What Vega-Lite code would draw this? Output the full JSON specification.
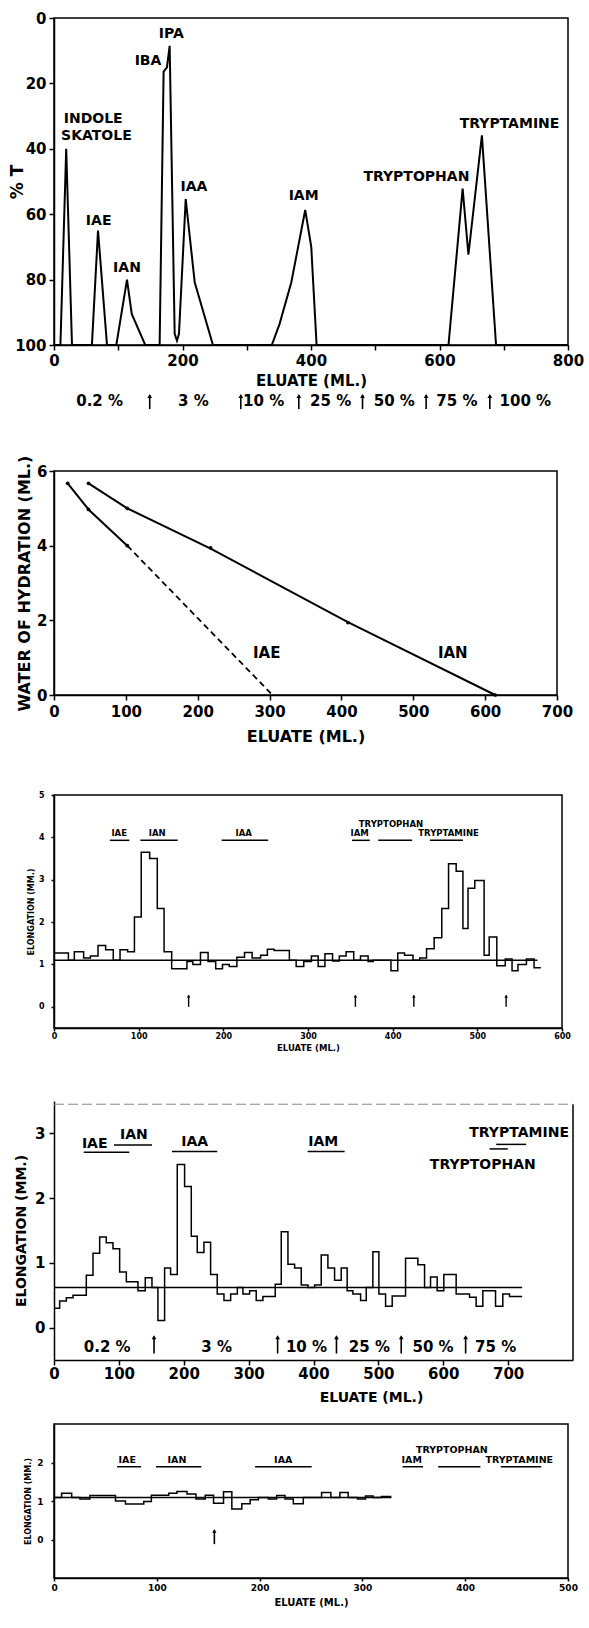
{
  "$schema": "https://vega.github.io/schema/vega-lite/v6.json",
  "background": "white",
  "padding": 0,
  "spacing": 0,
  "config": {
    "font": "DejaVu Sans",
    "view": {"stroke": "black", "strokeWidth": 1.5},
    "axis": {"grid": false, "domainColor": "black", "domainWidth": 1.5, "tickColor": "black", "tickWidth": 1.5, "labelColor": "black", "titleColor": "black", "labelFontWeight": "bold", "titleFontWeight": "bold", "labelFlush": false, "labelOverlap": false},
    "text": {"fontWeight": "bold", "color": "black"},
    "line": {"color": "black"},
    "rule": {"color": "black"},
    "point": {"color": "black", "filled": true, "opacity": 1}
  },
  "datasets": {
    "p1_line": [
      {"x": 0, "y": 100}, {"x": 10, "y": 100}, {"x": 19, "y": 40}, {"x": 28, "y": 100}, {"x": 59, "y": 100}, {"x": 68.5, "y": 65}, {"x": 82.5, "y": 100},
      {"x": 97, "y": 100}, {"x": 113.6, "y": 80}, {"x": 121, "y": 90.5}, {"x": 142, "y": 100}, {"x": 164.4, "y": 100}, {"x": 170.6, "y": 16.4},
      {"x": 175.8, "y": 15.1}, {"x": 180, "y": 8.5}, {"x": 187.8, "y": 96.6}, {"x": 191.4, "y": 98.7}, {"x": 194.5, "y": 96.6}, {"x": 205, "y": 55.4},
      {"x": 219, "y": 80.8}, {"x": 247.4, "y": 100}, {"x": 339, "y": 100}, {"x": 351, "y": 93.6}, {"x": 369.4, "y": 80.8}, {"x": 391, "y": 58.7},
      {"x": 400.4, "y": 70}, {"x": 408.7, "y": 100}, {"x": 614, "y": 100}, {"x": 636, "y": 52.2}, {"x": 645, "y": 72.4}, {"x": 666, "y": 35.9},
      {"x": 688, "y": 100}, {"x": 800, "y": 100}
    ],
    "p1_labels": [
      {"x": 61, "y": 31, "t": "INDOLE"}, {"x": 66, "y": 36, "t": "SKATOLE"}, {"x": 69.5, "y": 62, "t": "IAE"}, {"x": 113.6, "y": 76.3, "t": "IAN"},
      {"x": 146.3, "y": 13, "t": "IBA"}, {"x": 182.6, "y": 4.9, "t": "IPA"}, {"x": 217.8, "y": 51.6, "t": "IAA"}, {"x": 388.5, "y": 54.3, "t": "IAM"},
      {"x": 564, "y": 48.5, "t": "TRYPTOPHAN"}, {"x": 709, "y": 32.4, "t": "TRYPTAMINE"}
    ],
    "p1_pct": [
      {"x": 71, "t": "0.2 %"}, {"x": 217, "t": "3 %"}, {"x": 326.3, "t": "10 %"}, {"x": 430.5, "t": "25 %"}, {"x": 529.7, "t": "50 %"}, {"x": 627, "t": "75 %"}, {"x": 733.6, "t": "100 %"}
    ],
    "p1_arrows": [{"x": 149}, {"x": 290.7}, {"x": 381}, {"x": 480.2}, {"x": 579.2}, {"x": 678.3}],
    "p2_iae": [{"x": 19, "y": 5.67}, {"x": 48, "y": 4.97}, {"x": 102, "y": 4.0}],
    "p2_iae_ext": [{"x": 102, "y": 4.0}, {"x": 304, "y": 0}],
    "p2_ian": [{"x": 48, "y": 5.67}, {"x": 102, "y": 5.0}, {"x": 218, "y": 3.92}, {"x": 409, "y": 1.95}, {"x": 614, "y": 0}],
    "p2_pts": [{"x": 19, "y": 5.67}, {"x": 48, "y": 4.97}, {"x": 102, "y": 4.0}, {"x": 48, "y": 5.67}, {"x": 102, "y": 5.0}, {"x": 218, "y": 3.94}, {"x": 409, "y": 1.94}, {"x": 614, "y": 0}],
    "p2_labels": [{"x": 296, "y": 1.12, "t": "IAE"}, {"x": 555, "y": 1.12, "t": "IAN"}],
    "p3_steps": [
      {"x": 0, "y": 1.27}, {"x": 17, "y": 1.1}, {"x": 24, "y": 1.3}, {"x": 35, "y": 1.15}, {"x": 43, "y": 1.2}, {"x": 52, "y": 1.45}, {"x": 61, "y": 1.35},
      {"x": 70, "y": 1.1}, {"x": 78, "y": 1.35}, {"x": 87, "y": 1.3}, {"x": 95, "y": 2.12}, {"x": 103, "y": 3.65}, {"x": 113, "y": 3.5}, {"x": 122, "y": 2.32},
      {"x": 130, "y": 1.3}, {"x": 139, "y": 0.9}, {"x": 157, "y": 1.07}, {"x": 164, "y": 1.0}, {"x": 173, "y": 1.28}, {"x": 182, "y": 1.07}, {"x": 191, "y": 0.9},
      {"x": 199, "y": 1.0}, {"x": 207, "y": 0.95}, {"x": 216, "y": 1.17}, {"x": 225, "y": 1.28}, {"x": 234, "y": 1.15}, {"x": 244, "y": 1.22}, {"x": 252, "y": 1.36},
      {"x": 260, "y": 1.33}, {"x": 278, "y": 1.1}, {"x": 286, "y": 0.95}, {"x": 295, "y": 1.07}, {"x": 304, "y": 1.2}, {"x": 312, "y": 0.95}, {"x": 320, "y": 1.25},
      {"x": 329, "y": 1.08}, {"x": 337, "y": 1.2}, {"x": 345, "y": 1.3}, {"x": 354, "y": 1.1}, {"x": 362, "y": 1.2}, {"x": 371, "y": 1.07}, {"x": 377, "y": 1.1},
      {"x": 398, "y": 0.85}, {"x": 406, "y": 1.27}, {"x": 414, "y": 1.22}, {"x": 424, "y": 1.1}, {"x": 432, "y": 1.15}, {"x": 440, "y": 1.37}, {"x": 449, "y": 1.63},
      {"x": 458, "y": 2.32}, {"x": 466, "y": 3.38}, {"x": 475, "y": 3.2}, {"x": 483, "y": 1.85}, {"x": 489, "y": 2.8}, {"x": 497, "y": 2.98}, {"x": 508, "y": 1.22},
      {"x": 514, "y": 1.65}, {"x": 523, "y": 0.97}, {"x": 533, "y": 1.13}, {"x": 541, "y": 0.85}, {"x": 548, "y": 1.0}, {"x": 558, "y": 1.13}, {"x": 567, "y": 0.92},
      {"x": 575, "y": 0.92}
    ],
    "p3_bars": [
      {"x": 66, "x2": 89, "y": 3.93}, {"x": 102, "x2": 146, "y": 3.93}, {"x": 198, "x2": 253, "y": 3.93}, {"x": 352, "x2": 373, "y": 3.93},
      {"x": 383, "x2": 423, "y": 3.93}, {"x": 444, "x2": 483, "y": 3.93}
    ],
    "p3_labels": [
      {"x": 77, "y": 4.1, "t": "IAE"}, {"x": 122, "y": 4.1, "t": "IAN"}, {"x": 224, "y": 4.1, "t": "IAA"}, {"x": 361, "y": 4.1, "t": "IAM"},
      {"x": 398, "y": 4.31, "t": "TRYPTOPHAN"}, {"x": 466, "y": 4.1, "t": "TRYPTAMINE"}
    ],
    "p3_arrows": [{"x": 159}, {"x": 356}, {"x": 425}, {"x": 534}],
    "p4_steps": [
      {"x": 0, "y": 0.3}, {"x": 8.7, "y": 0.41}, {"x": 19, "y": 0.46}, {"x": 29.3, "y": 0.5}, {"x": 49.8, "y": 0.81}, {"x": 60.1, "y": 1.15}, {"x": 70.4, "y": 1.4},
      {"x": 80.6, "y": 1.31}, {"x": 90.9, "y": 1.22}, {"x": 101.2, "y": 0.86}, {"x": 111.5, "y": 0.71}, {"x": 129.4, "y": 0.57}, {"x": 140.7, "y": 0.77},
      {"x": 151, "y": 0.62}, {"x": 160.2, "y": 0.11}, {"x": 170.5, "y": 0.92}, {"x": 179.7, "y": 0.82}, {"x": 190, "y": 2.52}, {"x": 201.3, "y": 2.18},
      {"x": 211.6, "y": 1.41}, {"x": 220.8, "y": 1.16}, {"x": 231.1, "y": 1.32}, {"x": 241.4, "y": 0.82}, {"x": 251.6, "y": 0.52}, {"x": 262, "y": 0.42},
      {"x": 272.3, "y": 0.52}, {"x": 282.6, "y": 0.62}, {"x": 291.2, "y": 0.52}, {"x": 301.5, "y": 0.57}, {"x": 311.7, "y": 0.42}, {"x": 322, "y": 0.48},
      {"x": 341, "y": 0.67}, {"x": 350.3, "y": 1.48}, {"x": 360.6, "y": 0.98}, {"x": 370.9, "y": 0.92}, {"x": 381.1, "y": 0.66}, {"x": 391.4, "y": 0.62},
      {"x": 401.7, "y": 0.66}, {"x": 411.9, "y": 1.12}, {"x": 422.2, "y": 0.92}, {"x": 432.5, "y": 0.73}, {"x": 442.7, "y": 0.92}, {"x": 451.9, "y": 0.57},
      {"x": 460.7, "y": 0.52}, {"x": 472.6, "y": 0.42}, {"x": 481.3, "y": 0.62}, {"x": 491.5, "y": 1.17}, {"x": 500.8, "y": 0.52}, {"x": 511.1, "y": 0.33},
      {"x": 521.3, "y": 0.49}, {"x": 541.9, "y": 1.07}, {"x": 560.9, "y": 0.97}, {"x": 571.2, "y": 0.62}, {"x": 580.4, "y": 0.78}, {"x": 590.6, "y": 0.57},
      {"x": 600.9, "y": 0.82}, {"x": 619.9, "y": 0.52}, {"x": 640.5, "y": 0.47}, {"x": 650.7, "y": 0.33}, {"x": 661, "y": 0.57}, {"x": 680.6, "y": 0.33},
      {"x": 691.8, "y": 0.52}, {"x": 702.1, "y": 0.48}, {"x": 721.6, "y": 0.48}
    ],
    "p4_bars": [
      {"x": 45.8, "x2": 116, "y": 2.71}, {"x": 92.5, "x2": 151, "y": 2.82}, {"x": 181.8, "x2": 251.6, "y": 2.72}, {"x": 391, "x2": 448, "y": 2.72},
      {"x": 681.6, "x2": 727.8, "y": 2.83}, {"x": 671.3, "x2": 699.5, "y": 2.76}
    ],
    "p4_labels": [
      {"x": 62.7, "y": 2.84, "t": "IAE"}, {"x": 123, "y": 2.98, "t": "IAN"}, {"x": 216.8, "y": 2.86, "t": "IAA"}, {"x": 415, "y": 2.86, "t": "IAM"},
      {"x": 717, "y": 3.0, "t": "TRYPTAMINE"}, {"x": 661, "y": 2.51, "t": "TRYPTOPHAN"}
    ],
    "p4_pct": [
      {"x": 82, "t": "0.2 %"}, {"x": 250.6, "t": "3 %"}, {"x": 389.2, "t": "10 %"}, {"x": 486.2, "t": "25 %"}, {"x": 584.3, "t": "50 %"}, {"x": 680.7, "t": "75 %"}
    ],
    "p4_arrows": [{"x": 154.2}, {"x": 344.7}, {"x": 435.4}, {"x": 535.2}, {"x": 634.5}],
    "p5_steps": [
      {"x": 0, "y": 1.09}, {"x": 7.4, "y": 1.2}, {"x": 17.2, "y": 1.09}, {"x": 25.3, "y": 1.05}, {"x": 34.9, "y": 1.14}, {"x": 59.8, "y": 1.0},
      {"x": 69.5, "y": 0.92}, {"x": 87.3, "y": 0.99}, {"x": 94.7, "y": 1.15}, {"x": 111.6, "y": 1.2}, {"x": 119.6, "y": 1.25}, {"x": 129.4, "y": 1.18},
      {"x": 138.1, "y": 1.05}, {"x": 147.1, "y": 1.15}, {"x": 155.2, "y": 0.94}, {"x": 164.9, "y": 1.24}, {"x": 173, "y": 0.79}, {"x": 182.7, "y": 0.93},
      {"x": 190.8, "y": 1.03}, {"x": 198.8, "y": 1.09}, {"x": 208.5, "y": 1.05}, {"x": 216.6, "y": 1.14}, {"x": 224.7, "y": 1.05}, {"x": 232.8, "y": 0.93},
      {"x": 242.5, "y": 1.09}, {"x": 260.3, "y": 1.22}, {"x": 269.3, "y": 1.09}, {"x": 278.1, "y": 1.22}, {"x": 286.2, "y": 1.09}, {"x": 295.2, "y": 1.05},
      {"x": 303, "y": 1.13}, {"x": 310.4, "y": 1.09}, {"x": 318.5, "y": 1.12}, {"x": 328.2, "y": 1.12}
    ],
    "p5_bars": [
      {"x": 61.4, "x2": 84.7, "y": 1.89}, {"x": 99.3, "x2": 143.3, "y": 1.89}, {"x": 195.6, "x2": 250.6, "y": 1.89}, {"x": 339, "x2": 359, "y": 1.89},
      {"x": 373.7, "x2": 414.8, "y": 1.89}, {"x": 434.6, "x2": 474, "y": 1.89}
    ],
    "p5_labels": [
      {"x": 71.2, "y": 2.06, "t": "IAE"}, {"x": 119.6, "y": 2.06, "t": "IAN"}, {"x": 223, "y": 2.06, "t": "IAA"}, {"x": 348, "y": 2.06, "t": "IAM"},
      {"x": 387, "y": 2.33, "t": "TRYPTOPHAN"}, {"x": 452.6, "y": 2.06, "t": "TRYPTAMINE"}
    ],
    "p5_arrows": [{"x": 156}]
  },
  "vconcat": [
    {
      "width": 514, "height": 327,
      "layer": [
        {"data": {"name": "p1_line"}, "mark": {"type": "line", "strokeWidth": 2},
          "encoding": {
            "x": {"field": "x", "type": "quantitative", "scale": {"domain": [0, 800]},
              "axis": {"values": [0, 100, 200, 300, 400, 500, 600, 700, 800], "labelExpr": "datum.value % 200 == 0 ? datum.label : ''", "labelFontSize": 15, "labelPadding": 3, "tickSize": 5, "title": "ELUATE  (ML.)", "titleFontSize": 15, "titlePadding": 5}},
            "y": {"field": "y", "type": "quantitative", "scale": {"domain": [0, 100], "reverse": true},
              "axis": {"values": [0, 20, 40, 60, 80, 100], "labelFontSize": 15, "labelPadding": 3, "tickSize": 5, "title": "% T", "titleFontSize": 17, "titleX": -37, "titleBaseline": "middle"}}
          }},
        {"data": {"name": "p1_labels"}, "mark": {"type": "text", "fontSize": 14},
          "encoding": {"x": {"field": "x", "type": "quantitative"}, "y": {"field": "y", "type": "quantitative"}, "text": {"field": "t"}}},
        {"data": {"name": "p1_pct"}, "mark": {"type": "text", "fontSize": 15},
          "encoding": {"x": {"field": "x", "type": "quantitative"}, "y": {"datum": 117, "type": "quantitative"}, "text": {"field": "t"}}},
        {"data": {"name": "p1_arrows"}, "mark": {"type": "rule", "strokeWidth": 1.6},
          "encoding": {"x": {"field": "x", "type": "quantitative"}, "y": {"datum": 115.3, "type": "quantitative"}, "y2": {"datum": 119.6}}},
        {"data": {"name": "p1_arrows"}, "mark": {"type": "point", "shape": "triangle-up", "size": 22},
          "encoding": {"x": {"field": "x", "type": "quantitative"}, "y": {"datum": 115.6, "type": "quantitative"}}},
        {"data": {"values": [{}]}, "mark": {"type": "rule", "opacity": 0},
          "encoding": {"x": {"datum": -79.4, "type": "quantitative"}, "y": {"datum": -5.2, "type": "quantitative"}, "y2": {"datum": 123.2}}}
      ]
    },
    {
      "width": 503, "height": 224,
      "layer": [
        {"data": {"name": "p2_iae"}, "mark": {"type": "line", "strokeWidth": 2},
          "encoding": {
            "x": {"field": "x", "type": "quantitative", "scale": {"domain": [0, 700]},
              "axis": {"values": [0, 100, 200, 300, 400, 500, 600, 700], "labelFontSize": 15, "labelPadding": 4, "tickSize": 5, "title": "ELUATE  (ML.)", "titleFontSize": 16, "titlePadding": 9}},
            "y": {"field": "y", "type": "quantitative", "scale": {"domain": [0, 6]},
              "axis": {"values": [0, 1, 2, 3, 4, 5, 6], "labelExpr": "datum.value % 2 == 0 ? datum.label : ''", "labelFontSize": 15, "labelPadding": 2, "tickSize": 5, "title": "WATER  OF  HYDRATION  (ML.)", "titleFontSize": 16, "titleX": -30, "titleBaseline": "middle"}}
          }},
        {"data": {"name": "p2_iae_ext"}, "mark": {"type": "line", "strokeWidth": 1.8, "strokeDash": [6, 4]},
          "encoding": {"x": {"field": "x", "type": "quantitative"}, "y": {"field": "y", "type": "quantitative"}}},
        {"data": {"name": "p2_ian"}, "mark": {"type": "line", "strokeWidth": 2},
          "encoding": {"x": {"field": "x", "type": "quantitative"}, "y": {"field": "y", "type": "quantitative"}}},
        {"data": {"name": "p2_pts"}, "mark": {"type": "point", "filled": true, "size": 14},
          "encoding": {"x": {"field": "x", "type": "quantitative"}, "y": {"field": "y", "type": "quantitative"}}},
        {"data": {"name": "p2_labels"}, "mark": {"type": "text", "fontSize": 15},
          "encoding": {"x": {"field": "x", "type": "quantitative"}, "y": {"field": "y", "type": "quantitative"}, "text": {"field": "t"}}},
        {"data": {"values": [{}]}, "mark": {"type": "rule", "opacity": 0},
          "encoding": {"x": {"datum": -73.8, "type": "quantitative"}, "y": {"datum": 7.286, "type": "quantitative"}, "y2": {"datum": -1.82}}}
      ]
    },
    {
      "width": 508, "height": 233,
      "layer": [
        {"data": {"name": "p3_steps"}, "mark": {"type": "line", "interpolate": "step-after", "strokeWidth": 1.5},
          "encoding": {
            "x": {"field": "x", "type": "quantitative", "scale": {"domain": [0, 600]},
              "axis": {"values": [0, 100, 200, 300, 400, 500, 600], "labelFontSize": 8, "labelPadding": 1, "tickSize": 3, "title": "ELUATE  (ML.)", "titleFontSize": 8.5, "titlePadding": 3}},
            "y": {"field": "y", "type": "quantitative", "scale": {"domain": [-0.5, 5]},
              "axis": {"values": [0, 1, 2, 3, 4, 5], "format": "d", "labelFontSize": 8, "labelPadding": 7, "tickSize": 3, "title": "ELONGATION  (MM.)", "titleFontSize": 8, "titleX": -22.5, "titleBaseline": "middle"}}
          }},
        {"data": {"values": [{}]}, "mark": {"type": "rule", "strokeWidth": 1.5},
          "encoding": {"x": {"datum": 0, "type": "quantitative"}, "x2": {"datum": 571}, "y": {"datum": 1.1, "type": "quantitative"}}},
        {"data": {"name": "p3_bars"}, "mark": {"type": "rule", "strokeWidth": 1.5},
          "encoding": {"x": {"field": "x", "type": "quantitative"}, "x2": {"field": "x2"}, "y": {"field": "y", "type": "quantitative"}}},
        {"data": {"name": "p3_labels"}, "mark": {"type": "text", "fontSize": 8.5},
          "encoding": {"x": {"field": "x", "type": "quantitative"}, "y": {"field": "y", "type": "quantitative"}, "text": {"field": "t"}}},
        {"data": {"name": "p3_arrows"}, "mark": {"type": "rule", "strokeWidth": 1.4},
          "encoding": {"x": {"field": "x", "type": "quantitative"}, "y": {"datum": 0, "type": "quantitative"}, "y2": {"datum": 0.27}}},
        {"data": {"name": "p3_arrows"}, "mark": {"type": "point", "shape": "triangle-up", "size": 12},
          "encoding": {"x": {"field": "x", "type": "quantitative"}, "y": {"datum": 0.25, "type": "quantitative"}}},
        {"data": {"values": [{}]}, "mark": {"type": "rule", "opacity": 0},
          "encoding": {"x": {"datum": -59.1, "type": "quantitative"}, "y": {"datum": 5.709, "type": "quantitative"}, "y2": {"datum": -1.61}}}
      ]
    },
    {
      "width": 519, "height": 259,
      "view": {"stroke": null},
      "layer": [
        {"data": {"name": "p4_steps"}, "mark": {"type": "line", "interpolate": "step-after", "strokeWidth": 1.5},
          "encoding": {
            "x": {"field": "x", "type": "quantitative", "scale": {"domain": [0, 800]},
              "axis": {"values": [0, 100, 200, 300, 400, 500, 600, 700], "labelFontSize": 15, "labelPadding": 1, "tickSize": 5, "title": "ELUATE  (ML.)", "titleFontSize": 14, "titlePadding": 9, "titleX": 317}},
            "y": {"field": "y", "type": "quantitative", "scale": {"domain": [-0.5, 3.45]},
              "axis": {"values": [0, 1, 2, 3], "format": "d", "labelFontSize": 15, "labelPadding": 4, "tickSize": 5, "title": "ELONGATION  (MM.)", "titleFontSize": 14, "titleX": -33, "titleBaseline": "middle"}}
          }},
        {"data": {"values": [{}]}, "mark": {"type": "rule", "strokeWidth": 1.5},
          "encoding": {"x": {"datum": 0, "type": "quantitative"}, "x2": {"datum": 721.6}, "y": {"datum": 0.62, "type": "quantitative"}}},
        {"data": {"name": "p4_bars"}, "mark": {"type": "rule", "strokeWidth": 1.5},
          "encoding": {"x": {"field": "x", "type": "quantitative"}, "x2": {"field": "x2"}, "y": {"field": "y", "type": "quantitative"}}},
        {"data": {"name": "p4_labels"}, "mark": {"type": "text", "fontSize": 14},
          "encoding": {"x": {"field": "x", "type": "quantitative"}, "y": {"field": "y", "type": "quantitative"}, "text": {"field": "t"}}},
        {"data": {"name": "p4_pct"}, "mark": {"type": "text", "fontSize": 15},
          "encoding": {"x": {"field": "x", "type": "quantitative"}, "y": {"datum": -0.3, "type": "quantitative"}, "text": {"field": "t"}}},
        {"data": {"name": "p4_arrows"}, "mark": {"type": "rule", "strokeWidth": 1.6},
          "encoding": {"x": {"field": "x", "type": "quantitative"}, "y": {"datum": -0.4, "type": "quantitative"}, "y2": {"datum": -0.14}}},
        {"data": {"name": "p4_arrows"}, "mark": {"type": "point", "shape": "triangle-up", "size": 22},
          "encoding": {"x": {"field": "x", "type": "quantitative"}, "y": {"datum": -0.15, "type": "quantitative"}}},
        {"data": {"values": [{}]}, "mark": {"type": "rule", "strokeWidth": 1.5},
          "encoding": {"x": {"datum": 800, "type": "quantitative"}, "y": {"datum": -0.5, "type": "quantitative"}, "y2": {"datum": 3.45}}},
        {"data": {"values": [{}]}, "mark": {"type": "rule", "strokeWidth": 1, "color": "#888888", "strokeDash": [10, 4]},
          "encoding": {"x": {"datum": 0, "type": "quantitative"}, "x2": {"datum": 800}, "y": {"datum": 3.45, "type": "quantitative"}}},
        {"data": {"values": [{}]}, "mark": {"type": "rule", "opacity": 0},
          "encoding": {"x": {"datum": -70.9, "type": "quantitative"}, "y": {"datum": 3.877, "type": "quantitative"}, "y2": {"datum": -1.461}}}
      ]
    },
    {
      "width": 514, "height": 154,
      "layer": [
        {"data": {"name": "p5_steps"}, "mark": {"type": "line", "interpolate": "step-after", "strokeWidth": 1.5},
          "encoding": {
            "x": {"field": "x", "type": "quantitative", "scale": {"domain": [0, 500]},
              "axis": {"values": [0, 100, 200, 300, 400, 500], "labelFontSize": 9, "labelPadding": 2, "tickSize": 3, "title": "ELUATE  (ML.)", "titleFontSize": 10, "titlePadding": 5}},
            "y": {"field": "y", "type": "quantitative", "scale": {"domain": [-0.5, 2.5]},
              "axis": {"values": [0, 1, 2], "format": "d", "labelFontSize": 9, "labelPadding": 8, "tickSize": 3, "title": "ELONGATION  (MM.)", "titleFontSize": 8, "titleX": -26, "titleBaseline": "middle"}}
          }},
        {"data": {"values": [{}]}, "mark": {"type": "rule", "strokeWidth": 1.5},
          "encoding": {"x": {"datum": 0, "type": "quantitative"}, "x2": {"datum": 328.2}, "y": {"datum": 1.09, "type": "quantitative"}}},
        {"data": {"name": "p5_bars"}, "mark": {"type": "rule", "strokeWidth": 1.5},
          "encoding": {"x": {"field": "x", "type": "quantitative"}, "x2": {"field": "x2"}, "y": {"field": "y", "type": "quantitative"}}},
        {"data": {"name": "p5_labels"}, "mark": {"type": "text", "fontSize": 9.5},
          "encoding": {"x": {"field": "x", "type": "quantitative"}, "y": {"field": "y", "type": "quantitative"}, "text": {"field": "t"}}},
        {"data": {"name": "p5_arrows"}, "mark": {"type": "rule", "strokeWidth": 1.6},
          "encoding": {"x": {"field": "x", "type": "quantitative"}, "y": {"datum": -0.12, "type": "quantitative"}, "y2": {"datum": 0.24}}},
        {"data": {"name": "p5_arrows"}, "mark": {"type": "point", "shape": "triangle-up", "size": 18},
          "encoding": {"x": {"field": "x", "type": "quantitative"}, "y": {"datum": 0.22, "type": "quantitative"}}},
        {"data": {"values": [{}]}, "mark": {"type": "rule", "opacity": 0},
          "encoding": {"x": {"datum": -46.7, "type": "quantitative"}, "y": {"datum": 2.929, "type": "quantitative"}, "y2": {"datum": -1.123}}}
      ]
    }
  ]
}
